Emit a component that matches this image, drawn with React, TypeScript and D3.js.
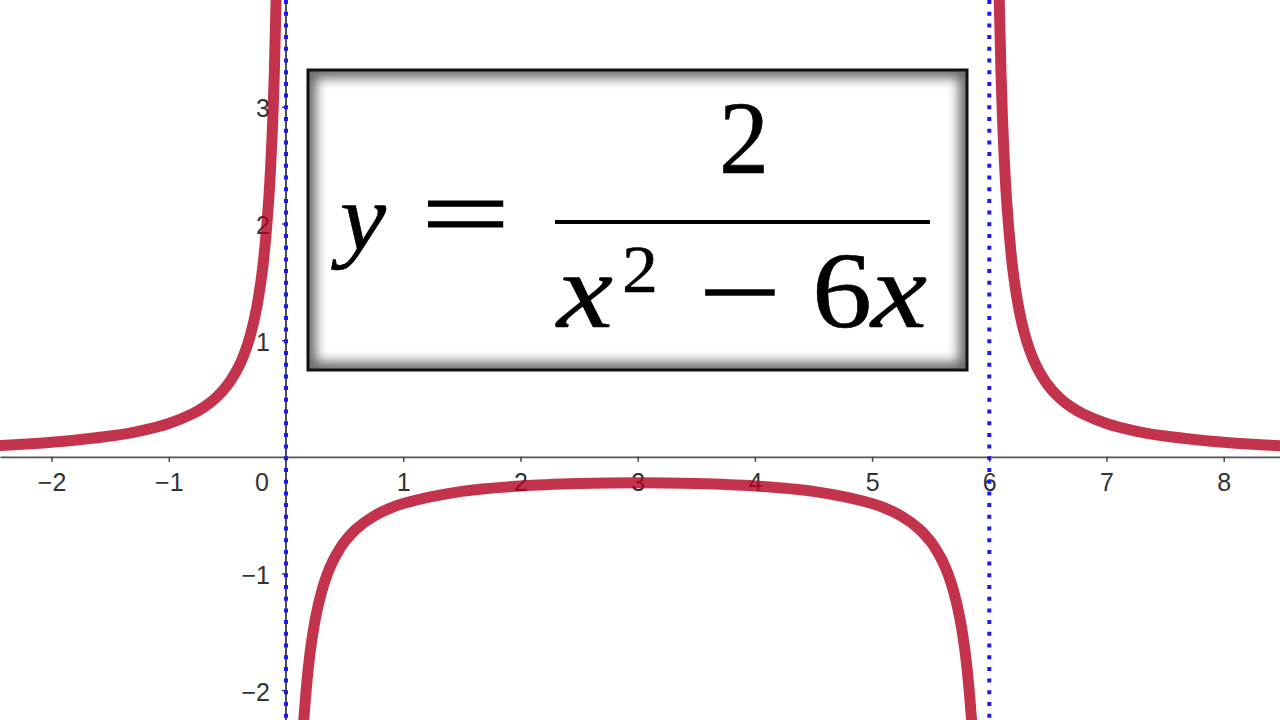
import { useEffect, useRef } from "react";
import * as d3 from "d3";

// view window in graph units
const X_DOMAIN: [number, number] = [-2.44, 8.48];
const Y_DOMAIN: [number, number] = [-2.256, 3.916];

const X_TICKS = [-2, -1, 1, 2, 3, 4, 5, 6, 7, 8];
const Y_TICKS = [-2, -1, 1, 2, 3];
const ASYMPTOTES = [0, 6];

// y = 2 / (x^2 - 6x)
const LEFT_BRANCH: [number, number][] = [
  [-2.5, 0.094], [-2.25, 0.108], [-2, 0.125], [-1.75, 0.148], [-1.5, 0.178],
  [-1.25, 0.221], [-1, 0.286], [-0.8, 0.368], [-0.7, 0.426], [-0.6, 0.505],
  [-0.5, 0.615], [-0.4, 0.781], [-0.35, 0.9], [-0.3, 1.058], [-0.25, 1.28],
  [-0.2, 1.613], [-0.15, 2.168], [-0.12, 2.723], [-0.1, 3.279], [-0.08, 4.112],
  [-0.06, 5.5],
];

const MIDDLE_BRANCH: [number, number][] = [
  [0.06, -5.61], [0.08, -4.223], [0.1, -3.39], [0.12, -2.834], [0.15, -2.279],
  [0.2, -1.724], [0.25, -1.391], [0.3, -1.17], [0.35, -1.011], [0.4, -0.893],
  [0.45, -0.801], [0.5, -0.727], [0.6, -0.617], [0.75, -0.508], [0.875, -0.446],
  [1, -0.4], [1.5, -0.296], [2, -0.25], [2.5, -0.229], [3, -0.222],
  [3.5, -0.229], [4, -0.25], [4.5, -0.296], [5, -0.4], [5.125, -0.446],
  [5.25, -0.508], [5.4, -0.617], [5.5, -0.727], [5.55, -0.801], [5.6, -0.893],
  [5.65, -1.011], [5.7, -1.17], [5.75, -1.391], [5.8, -1.724], [5.85, -2.279],
  [5.88, -2.834], [5.9, -3.39], [5.92, -4.223], [5.94, -5.61],
];

const RIGHT_BRANCH: [number, number][] = [
  [6.06, 5.5], [6.08, 4.112], [6.1, 3.279], [6.12, 2.723], [6.15, 2.168],
  [6.2, 1.613], [6.25, 1.28], [6.3, 1.058], [6.35, 0.9], [6.4, 0.781],
  [6.5, 0.615], [6.6, 0.505], [6.7, 0.426], [6.8, 0.368], [7, 0.286],
  [7.25, 0.221], [7.5, 0.178], [7.75, 0.148], [8, 0.125], [8.25, 0.108],
  [8.5, 0.094],
];

const BRANCHES = [LEFT_BRANCH, MIDDLE_BRANCH, RIGHT_BRANCH];

export default function App() {
  const svgRef = useRef<SVGSVGElement>(null);
  const width = 1280;
  const height = 720;

  useEffect(() => {
    if (!svgRef.current) return;
    const svg = d3.select(svgRef.current);
    svg.selectAll("*").remove();

    const x = d3.scaleLinear().domain(X_DOMAIN).range([0, width]);
    const y = d3.scaleLinear().domain(Y_DOMAIN).range([height, 0]);
    const labelFont = "'Liberation Sans', Arial, sans-serif";
    const fmt = (d: d3.NumberValue) => d3.format("d")(d as number);

    const defs = svg.append("defs");

    // x axis
    const xAxis = svg.append("g")
      .attr("transform", `translate(0,${y(0)})`)
      .call(d3.axisBottom(x).tickValues(X_TICKS).tickFormat(fmt).tickSize(5).tickSizeOuter(0));
    xAxis.select(".domain").attr("stroke", "#555").attr("stroke-width", 1.8);
    xAxis.selectAll(".tick line").attr("stroke", "#444").attr("stroke-width", 1.5);
    xAxis.selectAll(".tick text")
      .attr("y", 34).attr("dy", 0)
      .attr("font-size", 25).attr("font-family", labelFont).attr("fill", "#333");

    svg.append("text")
      .attr("x", x(0) - 24).attr("y", y(0) + 34)
      .attr("text-anchor", "middle")
      .attr("font-size", 25).attr("font-family", labelFont).attr("fill", "#333")
      .text("0");

    // y axis
    const yAxis = svg.append("g")
      .attr("transform", `translate(${x(0)},0)`)
      .call(d3.axisLeft(y).tickValues(Y_TICKS).tickFormat(fmt).tickSize(4).tickSizeOuter(0));
    yAxis.select(".domain").attr("stroke", "#222").attr("stroke-width", 1.6)
      .attr("d", `M0,0V${height}`);
    yAxis.selectAll(".tick line").attr("stroke", "#444").attr("stroke-width", 1.5);
    yAxis.selectAll(".tick text")
      .attr("x", -16).attr("dy", "0.4em")
      .attr("font-size", 25).attr("font-family", labelFont).attr("fill", "#333");

    // asymptotes
    svg.selectAll("line.asym")
      .data(ASYMPTOTES)
      .join("line")
      .attr("class", "asym")
      .attr("x1", (d) => x(d)).attr("x2", (d) => x(d))
      .attr("y1", 0).attr("y2", height)
      .attr("stroke", "#1a1af0")
      .attr("stroke-width", 4)
      .attr("stroke-dasharray", "4,7.7");

    // curve
    const line = d3.line<[number, number]>()
      .x((d) => x(d[0]))
      .y((d) => y(d[1]))
      .curve(d3.curveCatmullRom.alpha(0.5));

    svg.selectAll("path.branch")
      .data(BRANCHES)
      .join("path")
      .attr("class", "branch")
      .attr("d", (d) => line(d))
      .attr("fill", "none")
      .attr("stroke", "#b5001f")
      .attr("stroke-opacity", 0.8)
      .attr("stroke-width", 11)
      .attr("stroke-linecap", "round")
      .attr("stroke-linejoin", "round");

    // equation box with inner shadow
    const box = { x: 308, y: 70, w: 659, h: 300 };
    defs.append("clipPath").attr("id", "boxClip")
      .append("rect").attr("x", box.x).attr("y", box.y).attr("width", box.w).attr("height", box.h);
    defs.append("filter").attr("id", "soft")
      .attr("x", "-10%").attr("y", "-10%").attr("width", "120%").attr("height", "120%")
      .append("feGaussianBlur").attr("stdDeviation", 6);

    svg.append("rect")
      .attr("x", box.x).attr("y", box.y).attr("width", box.w).attr("height", box.h)
      .attr("fill", "#fff");
    svg.append("g").attr("clip-path", "url(#boxClip)")
      .append("rect")
      .attr("x", box.x).attr("y", box.y).attr("width", box.w).attr("height", box.h)
      .attr("fill", "none").attr("stroke", "#000").attr("stroke-width", 16)
      .attr("opacity", 0.6)
      .attr("filter", "url(#soft)");
    svg.append("rect")
      .attr("x", box.x).attr("y", box.y).attr("width", box.w).attr("height", box.h)
      .attr("fill", "none").attr("stroke", "#111").attr("stroke-width", 3);

    // equation y = 2 / (x^2 - 6x)
    const serif = "'Liberation Serif', 'Times New Roman', serif";
    const eq = svg.append("g").attr("font-family", serif).attr("fill", "#000");
    const glyph = (t: string, gx: number, gy: number, size: number, italic: boolean, len?: number, bold = 0) => {
      const el = eq.append("text")
        .attr("x", gx).attr("y", gy)
        .attr("font-size", size)
        .attr("font-style", italic ? "italic" : "normal")
        .text(t);
      if (len) el.attr("textLength", len).attr("lengthAdjust", "spacingAndGlyphs");
      if (bold) el.attr("stroke", "#000").attr("stroke-width", bold);
      return el;
    };
    glyph("y", 340, 250, 96, true, 46, 0.6);
    glyph("=", 421, 249, 104, false, 89, 1.2);
    glyph("2", 719, 173, 104, false, 50, 0.6);
    eq.append("rect").attr("x", 555).attr("y", 220).attr("width", 375).attr("height", 4);
    glyph("x", 557, 327, 108, true, 56, 0.6);
    glyph("2", 622, 292, 68, false, 36, 0.5);
    glyph("\u2212", 699, 327, 104, false, 82, 1.4);
    glyph("6", 812, 327, 108, false, 60, 0.6);
    glyph("x", 871, 327, 108, true, 56, 0.6);
  }, []);

  return (
    <div style={{ position: "absolute", left: 0, top: 0, width, height, background: "#fff" }}>
      <svg ref={svgRef} width={width} height={height} style={{ display: "block" }} />
    </div>
  );
}
